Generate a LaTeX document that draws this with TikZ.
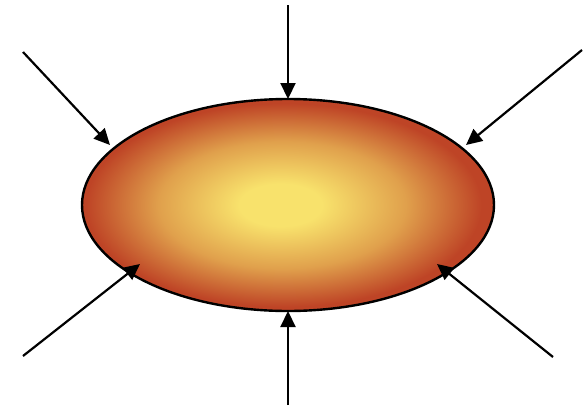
\documentclass[tikz,border=0pt]{standalone}
\usetikzlibrary{shapes.geometric,arrows.meta}
\definecolor{cin}{HTML}{F8E26C}
\definecolor{cmid}{HTML}{E0A04C}
\definecolor{cout}{HTML}{BE4426}
\pgfdeclareradialshading{blob}{\pgfpoint{-1bp}{0bp}}{color(0bp)=(cin); color(5bp)=(cin); color(15bp)=(cmid); color(24bp)=(cout); color(50bp)=(cout)}
\tikzset{
  arr/.style={line width=2.2pt, -{Triangle[length=16pt,width=15pt]}},
}
\begin{document}
\begin{tikzpicture}[x=1pt,y=-1pt]
\useasboundingbox (0,0) rectangle (586,407);
\node[ellipse, draw, line width=2.4pt, shading=blob, minimum width=412pt, minimum height=212pt, inner sep=0pt] (e) at (288,205) {};
\coordinate (s1) at (288,5);    \coordinate (t1) at (288,99);
\coordinate (s2) at (288,405);  \coordinate (t2) at (288,311);
\coordinate (s3) at (23,52);    \coordinate (t3) at (110,145);
\coordinate (s4) at (582,50);   \coordinate (t4) at (466,145);
\coordinate (s5) at (23,356);   \coordinate (t5) at (140,264);
\coordinate (s6) at (553,357);  \coordinate (t6) at (437,264);
\foreach \i in {1,...,6} \draw[arr] (s\i) -- (t\i);
\end{tikzpicture}
\end{document}
